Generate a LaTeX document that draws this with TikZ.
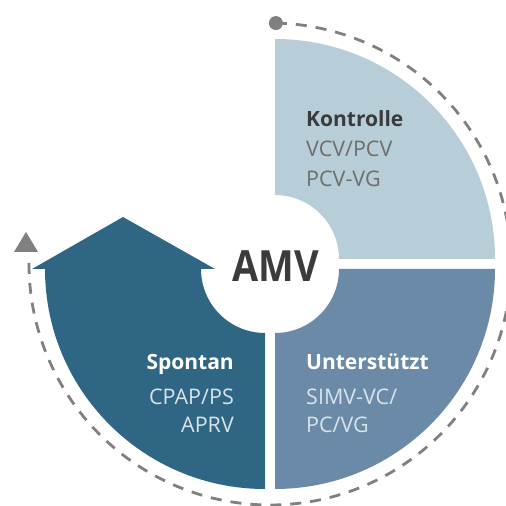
\documentclass[tikz,border=0pt]{standalone}
\usepackage{fontspec}
\usetikzlibrary{calc}
\setmainfont{Open Sans}
\definecolor{kontC}{HTML}{B7CDD7}
\definecolor{unterC}{HTML}{6A8AA7}
\definecolor{sponC}{HTML}{2F6683}
\definecolor{dashC}{HTML}{808080}
\definecolor{darkT}{HTML}{3B3B3B}
\definecolor{greyT}{HTML}{6E6E6E}
\definecolor{lightT}{HTML}{D9E3EA}
\begin{document}
\begin{tikzpicture}[x=1pt,y=1pt,
  headtext/.style={font=\fontsize{21}{24}\selectfont\bfseries, inner sep=0pt},
  subtext/.style={font=\fontsize{21.5}{24}\selectfont, inner sep=0pt},
  dashedring/.style={draw=dashC, line width=2.8pt, dash pattern=on 11pt off 9pt}]
\useasboundingbox (0,0) rectangle (506,506);
% sectors
\fill[kontC] (275,247+64) -- (275,247+220) arc[start angle=90,end angle=0,radius=220] -- (275+64,247) arc[start angle=0,end angle=90,radius=64] -- cycle;
\fill[unterC] (275+64,237) -- (275+220,237) arc[start angle=0,end angle=-90,radius=220] -- (275,237-64) arc[start angle=-90,end angle=0,radius=64] -- cycle;
\fill[sponC] (265,237-220) arc[start angle=270,end angle=180,radius=220] -- (32,237) -- (123,289) -- (215,237) -- (265-64,237) arc[start angle=180,end angle=270,radius=64] -- cycle;
% dashed ring
\coordinate (ringC) at (270,242);
\coordinate (ringStart) at ($(ringC)+(88.6:241)$);
\draw[dashedring] (ringC) ++(88.6:241) arc[start angle=88.6,end angle=-182,radius=241];
\fill[dashC] (ringStart) circle[radius=7];
\fill[dashC] (26,274) -- (38,254) -- (14,254) -- cycle;
% texts
\node[headtext, text=darkT, anchor=base west] (kont) at (306,379) {Kontrolle};
\node[subtext, text=greyT, anchor=base west] (kont1) at (306,349) {VCV/PCV};
\node[subtext, text=greyT, anchor=base west] (kont2) at (306,319) {PCV-VG};
\node[headtext, text=white, anchor=base east] (spon) at (234,136) {Spontan};
\node[subtext, text=lightT, anchor=base east] (spon1) at (234,101) {CPAP/PS};
\node[subtext, text=lightT, anchor=base east] (spon2) at (234,73) {APRV};
\node[headtext, text=white, anchor=base west] (unter) at (306,136) {Unterstützt};
\node[subtext, text=lightT, anchor=base west] (unter1) at (306,101) {SIMV-VC/};
\node[subtext, text=lightT, anchor=base west] (unter2) at (306,73) {PC/VG};
\node[font=\fontsize{43}{46}\selectfont\bfseries, text=darkT, inner sep=0pt, anchor=base, xscale=0.88] (amv) at (275.5,224) {AMV};
\end{tikzpicture}
\end{document}
